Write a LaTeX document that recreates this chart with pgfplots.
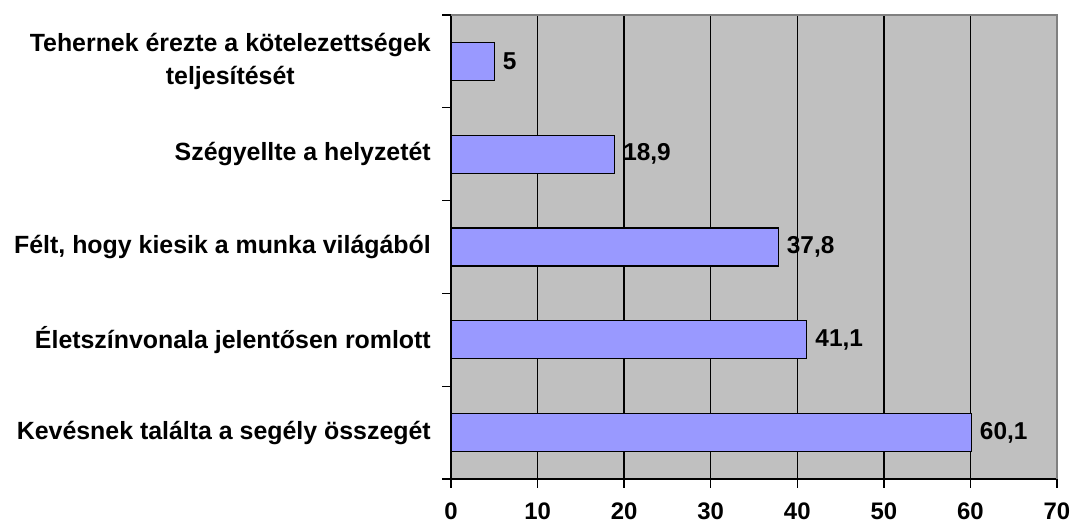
\documentclass[border=0pt]{standalone}
\usepackage{pgfplots}
\pgfplotsset{compat=1.18}
\usepackage{fontspec}
\setmainfont{Liberation Sans}
\definecolor{bgc}{HTML}{C0C0C0}
\definecolor{barc}{HTML}{9999FF}
\definecolor{edgec}{HTML}{808080}
\begin{document}
\begin{tikzpicture}
\begin{axis}[
  scale only axis,
  width=606bp, height=464bp,
  xmin=0, xmax=70,
  ymin=-0.5, ymax=4.5,
  xbar, bar width=38bp,
  axis background/.style={fill=bgc},
  axis x line*=bottom, axis y line*=left,
  axis line style={black, line width=1.3bp},
  x axis line style={-}, y axis line style={-},
  xtick={0,10,...,70},
  xmajorgrids, grid style={black, line width=1.3bp},
  major tick style={black, line width=1.3bp},
  tick align=outside,
  major tick length=8.5bp,
  ytick={-0.5,0.5,1.5,2.5,3.5,4.5},
  yticklabels={},
  extra y ticks={0,1,2,3,4},
  extra y tick labels={Kevésnek találta a segély összegét,Életszínvonala jelentősen romlott,{Félt, hogy kiesik a munka világából},Szégyellte a helyzetét,{Tehernek érezte a kötelezettségek\\[4bp]teljesítését}},
  extra y tick style={major tick length=0pt,
    yticklabel style={font=\fontsize{25}{30}\selectfont\bfseries, align=center, inner sep=0pt, xshift=-20bp}},
  xticklabel style={font=\fontsize{24}{28}\selectfont\bfseries, inner sep=0pt, yshift=-15bp},
  /pgf/number format/assume math mode=true,
  nodes near coords,
  nodes near coords style={font=\fontsize{24.5}{28}\selectfont\bfseries, anchor=west, inner sep=0pt, xshift=8bp,
    /pgf/number format/.cd, fixed, precision=1, use comma},
  clip=false,
]
\addplot[fill=barc, draw=black, line width=1.3bp] coordinates {(60.1,0) (41.1,1) (37.8,2) (18.9,3) (5,4)};
\draw[edgec, line width=1.3bp] (rel axis cs:0,1) -- (rel axis cs:1,1) -- (rel axis cs:1,0);
\end{axis}
\pgfresetboundingbox
\path ([shift={(-451bp,-48bp)}]current axis.south west) rectangle ([shift={(14bp,15bp)}]current axis.north east);
\end{tikzpicture}
\end{document}
